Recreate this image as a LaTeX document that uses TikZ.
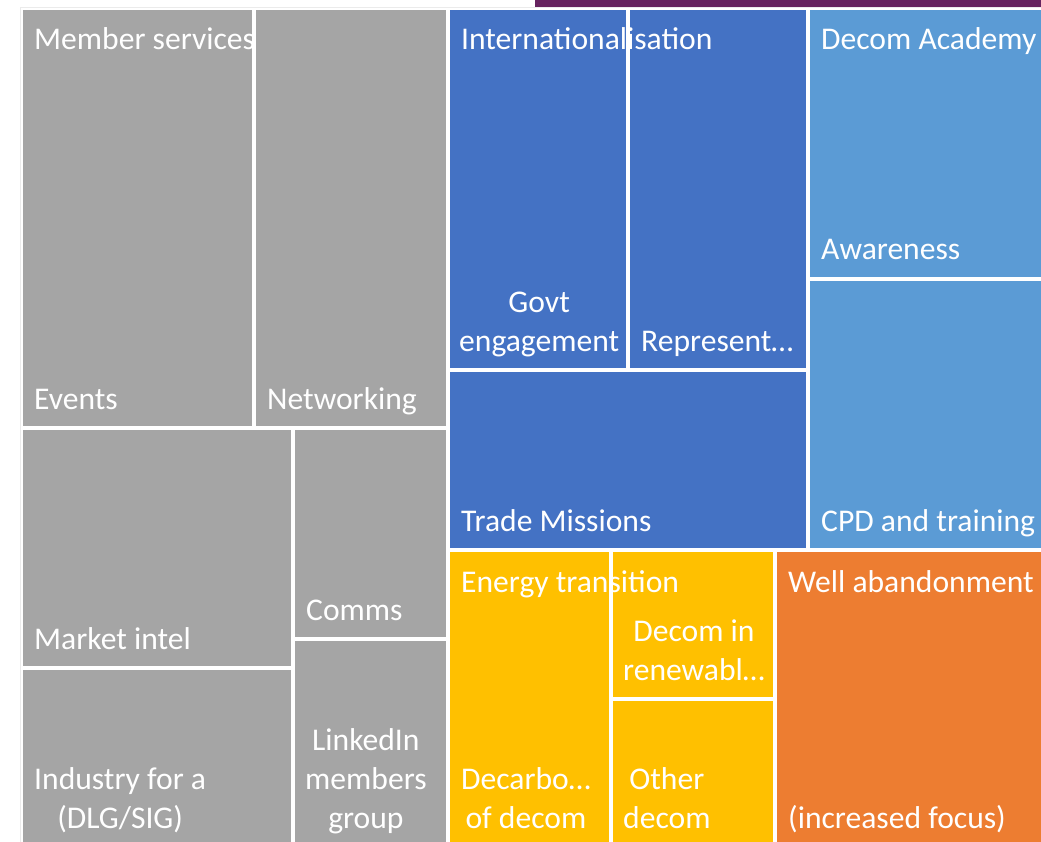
\documentclass[tikz,border=0pt]{standalone}
\usepackage{fontspec}
\setmainfont{Carlito}

\definecolor{tilegrey}{HTML}{A5A5A5}
\definecolor{tileblue}{HTML}{4472C4}
\definecolor{tilesky}{HTML}{5B9BD5}
\definecolor{tileyellow}{HTML}{FFC000}
\definecolor{tileorange}{HTML}{ED7D31}
\definecolor{barpurple}{HTML}{66235F}

\tikzset{
  label text/.style={text=white, inner sep=0pt, anchor=base west,
    font=\fontsize{31.6}{39}\selectfont},
  gap/.style={draw=white, line width=4pt},
}
\newcommand{\stacked}[1]{\begin{tabular}[b]{@{}c@{}}#1\end{tabular}}

\begin{document}
\begin{tikzpicture}[x=1pt,y=-1pt]

\useasboundingbox (0,0) rectangle (1041,842);
\clip (0,0) rectangle (1041,842);

% Tiles
\fill[tilegrey] (21,8) rectangle (254,428);      % Events
\fill[tilegrey] (254,8) rectangle (448,428);     % Networking
\fill[tilegrey] (21,428) rectangle (293,668);    % Market intel
\fill[tilegrey] (21,668) rectangle (293,847);    % Industry fora
\fill[tilegrey] (293,428) rectangle (448,639);   % Comms
\fill[tilegrey] (293,639) rectangle (448,847);   % LinkedIn
\fill[tileblue] (448,8) rectangle (628,370);     % Govt engagement
\fill[tileblue] (628,8) rectangle (808,370);     % Representation
\fill[tileblue] (448,370) rectangle (808,550);   % Trade Missions
\fill[tilesky] (808,8) rectangle (1045,279);     % Awareness
\fill[tilesky] (808,279) rectangle (1045,550);   % CPD
\fill[tileyellow] (448,550) rectangle (611,847); % Decarbonisation
\fill[tileyellow] (611,550) rectangle (775,699); % Decom in renewables
\fill[tileyellow] (611,699) rectangle (775,847); % Other decom
\fill[tileorange] (775,550) rectangle (1045,847);% Well abandonment

% Group labels
\node[label text] (members) at (34,50) {Member services};
\node[label text] (intl) at (461,50) {Internationalisation};
\node[label text] (academy) at (821,50) {Decom Academy};
\node[label text] (energy) at (461,592) {Energy transition};
\node[label text] (wells) at (788,592) {Well abandonment};

% Gaps
\foreach \xa/\ya/\xb/\yb in {21/8/254/428, 254/8/448/428, 21/428/293/668,
    21/668/293/847, 293/428/448/639, 293/639/448/847, 448/8/628/370,
    628/8/808/370, 448/370/808/550, 808/8/1045/279, 808/279/1045/550,
    448/550/611/847, 611/550/775/699, 611/699/775/847, 775/550/1045/847}
  \draw[gap] (\xa,\ya) rectangle (\xb,\yb);

% Leaf labels
\node[label text] (events) at (34,409) {Events};
\node[label text] (networking) at (267,409) {Networking};
\node[label text] (market) at (34,649) {Market intel};
\node[label text] (fora) at (34,828) {\stacked{Industry for a\\(DLG/SIG)}};
\node[label text] (comms) at (306,620) {Comms};
\node[label text] (linkedin) at (305,828) {\stacked{LinkedIn\\members\\group}};
\node[label text] (govt) at (459,351) {\stacked{Govt\\engagement}};
\node[label text] (represent) at (641,351) {Represent…};
\node[label text] (trade) at (461,531) {Trade Missions};
\node[label text] (awareness) at (821,260) {Awareness};
\node[label text] (cpd) at (821,531) {CPD and training};
\node[label text] (decarb) at (461,828) {\stacked{Decarbo…\\of decom}};
\node[label text] (renew) at (623,680) {\stacked{Decom in\\renewabl…}};
\node[label text] (other) at (623,828) {\stacked{Other\\decom}};
\node[label text] (focus) at (788,828) {(increased focus)};

% Frame and bar
\draw[black!8, line width=0.8pt] (20.5,7.5) rectangle (1045,850);
\fill[barpurple] (535,0) rectangle (1041,7);

\end{tikzpicture}
\end{document}
